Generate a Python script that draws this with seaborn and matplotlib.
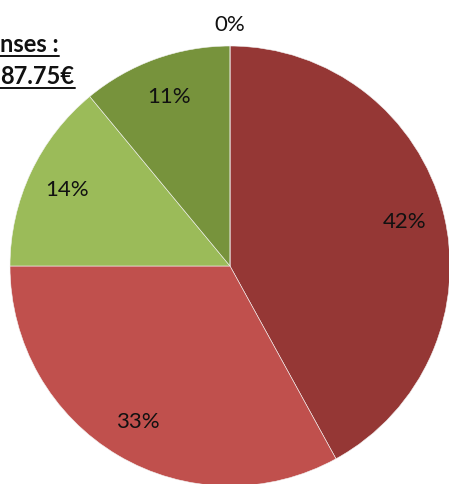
import numpy as np
import matplotlib
matplotlib.use("Agg")
import matplotlib.pyplot as plt
import seaborn as sns
from matplotlib.lines import Line2D

sns.set_theme(style="white")
plt.rcParams["font.family"] = ["Lato", "DejaVu Sans"]

# Expense shares (percent), clockwise from 12 o'clock
categories = ["Poste A", "Poste B", "Poste C", "Poste D", "Poste E"]
shares = [42, 33, 14, 11, 0]
pct_labels = ["42%", "33%", "14%", "11%", "0%"]
colors = ["#953735", "#C0504D", "#9BBB59", "#77933C", "#4F81BD"]

title_lines = ["nses :", "87.75€"]

W, H = 449, 485
fig = plt.figure(figsize=(W / 100, H / 100), dpi=100)
cx, cy, r = 230, 267, 220
ax = fig.add_axes([(cx - r) / W, (H - cy - r) / H, 2 * r / W, 2 * r / H])

wedges, _ = ax.pie(shares, colors=colors, startangle=90, counterclock=False,
                   radius=1.0, wedgeprops=dict(linewidth=0.4, edgecolor="#f4f4f4"))
ax.set_xlim(-1, 1)
ax.set_ylim(-1, 1)
ax.set_axis_off()

for w, lab, val in zip(wedges, pct_labels, shares):
    mid = np.deg2rad((w.theta1 + w.theta2) / 2)
    d = 0.82 if val > 0 else 1.10
    ax.text(d * np.cos(mid), d * np.sin(mid), lab, ha="center", va="center",
            fontsize=16, color="#111111", clip_on=False)

# Heading at the top-left, underlined
bases = [52, 84]
for line, yb in zip(title_lines, bases):
    t = fig.text(0.5 / W, 1 - yb / H, line, ha="left", va="baseline",
                 fontsize=17, fontweight="bold", color="#111111")
    fig.canvas.draw()
    bb = t.get_window_extent()
    yl = 1 - (yb + 5) / H
    fig.add_artist(Line2D([0, bb.x1 / W], [yl, yl], transform=fig.transFigure,
                          color="#111111", linewidth=1.4))

fig.savefig("out.png", dpi=100)
